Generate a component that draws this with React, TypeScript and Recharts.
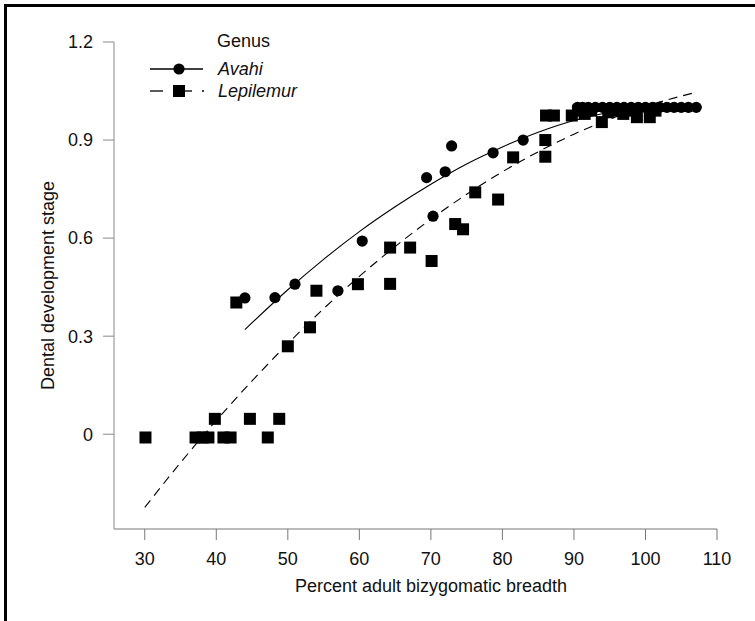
import React from 'react'
import { ComposedChart, Scatter, Line, XAxis, YAxis, Label } from 'recharts'

const avahiX = [44.0, 48.2, 51.0, 57.0, 60.4, 69.4, 70.3, 72.0, 72.9, 78.7, 82.9,
  90.5, 91.2, 92.0, 93.0, 94.0, 95.0, 96.0, 97.0, 98.0, 99.0, 100.0, 101.0, 102.0, 103.0, 104.0, 105.0, 106.0, 107.1]
const avahiY = [0.417, 0.418, 0.459, 0.439, 0.591, 0.785, 0.667, 0.803, 0.882, 0.861, 0.9,
  1.0, 1.0, 1.0, 1.0, 1.0, 1.0, 1.0, 1.0, 1.0, 1.0, 1.0, 1.0, 1.0, 1.0, 1.0, 1.0, 1.0, 1.0]

const lepiX = [30.1, 37.1, 38.1, 38.9, 39.8, 41.0, 42.0, 44.7, 47.2, 48.8, 42.8, 50.0, 53.1, 54.0,
  59.8, 64.3, 64.3, 67.1, 70.1, 73.4, 74.5, 76.2, 79.4, 81.5, 86.0, 86.0, 86.1, 87.2,
  89.7, 90.6, 91.5, 92.4, 93.9, 94.8, 95.8, 96.9, 97.8, 98.8, 100.6, 101.4]
const lepiY = [-0.01, -0.01, -0.01, -0.01, 0.047, -0.01, -0.01, 0.047, -0.01, 0.047, 0.403, 0.269, 0.327, 0.439,
  0.459, 0.571, 0.46, 0.571, 0.53, 0.643, 0.627, 0.74, 0.718, 0.847, 0.9, 0.849, 0.975, 0.975,
  0.975, 0.99, 0.98, 0.99, 0.955, 0.985, 0.99, 0.98, 0.99, 0.97, 0.97, 0.99]

// fitted curves
const avahiFitX = [44, 50, 55, 60, 65, 70, 75, 80, 85, 90, 95, 100, 107]
const avahiFitY = [0.32, 0.442, 0.535, 0.62, 0.696, 0.765, 0.827, 0.879, 0.924, 0.96, 0.985, 1.0, 1.008]
const lepiFitX = [30, 35, 40, 45, 50, 55, 60, 65, 70, 75, 80, 85, 90, 95, 100, 106.5]
const lepiFitY = [-0.224, -0.087, 0.042, 0.163, 0.277, 0.384, 0.483, 0.574, 0.658, 0.734, 0.803, 0.864, 0.918, 0.964, 1.003, 1.043]

const xTicks = [30, 40, 50, 60, 70, 80, 90, 100, 110]
const yTicks = [0, 0.3, 0.6, 0.9, 1.2]

const zip = (xs: number[], ys: number[]) => xs.map((x, i) => ({ x, y: ys[i] }))

const FONT = '"Liberation Sans", Arial, sans-serif'
const tickStyle = { fontSize: 18, fill: '#111', fontFamily: FONT }

const Dot = (p: any) => <circle cx={p.cx} cy={p.cy} r={5.6} fill="#000" />
const Sq = (p: any) => <rect x={p.cx - 6} y={p.cy - 6} width={12} height={12} fill="#000" />

// legend drawn as an overlay so it doesn't eat into the plot area
function GenusLegend() {
  const row = { display: 'flex', alignItems: 'center', height: 22 }
  const txt = { fontStyle: 'italic', marginLeft: 14 }
  return (
    <div style={{ position: 'absolute', left: 150, top: 30, fontFamily: FONT, fontSize: 18, color: '#111', lineHeight: '22px' }}>
      <div style={{ marginLeft: 67, height: 28 }}>Genus</div>
      <div style={row}>
        <svg width={54} height={22}>
          <line x1={0} x2={53} y1={11} y2={11} stroke="#000" strokeWidth={1.3} />
          <circle cx={29} cy={11} r={5.6} fill="#000" />
        </svg>
        <span style={txt}>Avahi</span>
      </div>
      <div style={row}>
        <svg width={54} height={22}>
          <line x1={0} x2={13} y1={11} y2={11} stroke="#000" strokeWidth={1.3} />
          <rect x={23} y={5} width={12} height={12} fill="#000" />
          <line x1={35} x2={42} y1={11} y2={11} stroke="#000" strokeWidth={1.3} />
          <line x1={52} x2={54} y1={11} y2={11} stroke="#000" strokeWidth={1.3} />
        </svg>
        <span style={txt}>Lepilemur</span>
      </div>
    </div>
  )
}

export default function App() {
  return (
    <div style={{ position: 'absolute', left: 0, top: 0, width: 755, height: 621, background: '#fff' }}>
      <div style={{ position: 'absolute', left: 4, top: 4, width: 751, height: 617, borderTop: '3px solid #000', borderLeft: '3px solid #000' }} />
      <ComposedChart width={755} height={621} margin={{ top: 42, right: 38, left: 0, bottom: 0 }}>
        <XAxis
          type="number"
          dataKey="x"
          domain={[25.7, 110]}
          ticks={xTicks}
          allowDataOverflow
          height={92}
          tickSize={11}
          tickMargin={12}
          tick={tickStyle}
          stroke="#777"
        >
          <Label
            content={(p: any) => (
              <text x={p.viewBox.x + 317} y={p.viewBox.y + 63} textAnchor="middle" fontSize={18} fontFamily={FONT} fill="#111">
                Percent adult bizygomatic breadth
              </text>
            )}
          />
        </XAxis>
        <YAxis
          type="number"
          dataKey="y"
          domain={[-0.29, 1.2]}
          ticks={yTicks}
          allowDataOverflow
          width={114}
          tickSize={11}
          tickMargin={10}
          tick={tickStyle}
          stroke="#888"
        >
          <Label
            content={(p: any) => {
              const cx = p.viewBox.x + 48
              const cy = p.viewBox.y + p.viewBox.height / 2
              return (
                <text x={cx} y={cy} transform={`rotate(-90 ${cx} ${cy})`} textAnchor="middle" dominantBaseline="central" fontSize={18} fontFamily={FONT} fill="#111">
                  Dental development stage
                </text>
              )
            }}
          />
        </YAxis>
        <Line data={zip(avahiFitX, avahiFitY)} dataKey="y" type="monotone" stroke="#000" strokeWidth={1.1} dot={false} isAnimationActive={false} />
        <Line data={zip(lepiFitX, lepiFitY)} dataKey="y" type="monotone" stroke="#000" strokeWidth={1.1} strokeDasharray="9 6" dot={false} isAnimationActive={false} />
        <Scatter name="Avahi" data={zip(avahiX, avahiY)} shape={Dot} isAnimationActive={false} />
        <Scatter name="Lepilemur" data={zip(lepiX, lepiY)} shape={Sq} isAnimationActive={false} />
      </ComposedChart>
      <GenusLegend />
    </div>
  )
}
